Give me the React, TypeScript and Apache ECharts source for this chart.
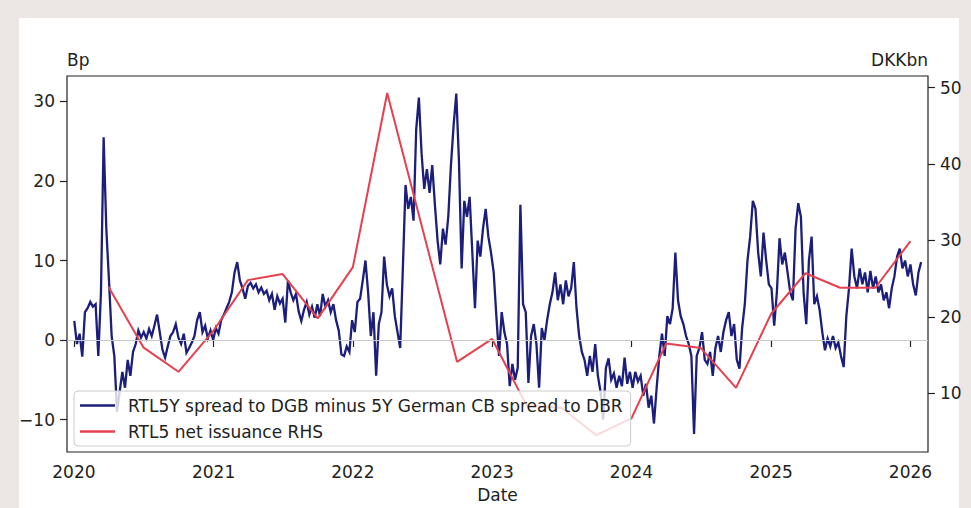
import React, { useEffect, useRef } from "react";
import * as echarts from "echarts";

// Weekly readings of the RTL5Y spread (bp), one value per week from 2 Jan 2020
const spread2020 = [
  2.4, -0.5, 0.8, -2.1, 3.5, 4.0, 4.8, 4.2, 4.5, -2.0,
  6.0, 25.5, 14.0, 7.5, 0.5, -2.0, -9.0, -6.5, -4.0, -6.0,
  -2.5, -4.5, -1.5, -0.5, 1.2, 0.3, 1.0, 0.2, 1.4, 0.5,
  1.8, 3.2, 1.0, -1.2, -2.2, -0.8, 0.5, 1.0, 2.0, 0.3,
  -0.5, 0.8, -1.6, -1.0, -0.3, 0.5, 2.5, 3.5, 1.0, 1.8,
  0.2, 1.2, 0.0,
];
const spread2021 = [
  1.5, 0.8, 2.5, 3.2, 4.0, 4.8, 6.0, 8.5, 9.8, 7.5,
  6.5, 5.2, 6.8, 7.2, 6.5, 7.0, 6.0, 6.6, 5.8, 6.2,
  5.0, 5.8, 3.8, 5.5, 4.6, 5.2, 2.2, 7.5, 6.0, 5.0,
  5.8, 3.6, 2.4, 3.8, 4.8, 3.2, 4.2, 2.8, 4.5, 3.0,
  5.8, 4.2, 5.0, 3.5, 4.5, 2.5, 1.2, -1.8, -2.0, -0.8,
  -1.5, 2.5,
];
const spread2022 = [
  1.0, 4.8, 5.2, 7.5, 10.0, 6.0, 0.5, 3.5, -4.5, 2.0,
  3.5, 10.5, 7.0, 5.5, 6.5, 3.0, 1.0, -1.0, 9.0, 19.5,
  16.5, 18.0, 15.0, 26.5, 30.5, 23.5, 19.0, 21.5, 18.5, 22.0,
  17.0, 12.5, 9.5, 14.0, 12.0, 15.5, 22.0, 27.0, 31.0, 22.5,
  9.0, 17.5, 15.5, 18.0, 11.0, 4.0, 12.5, 10.5, 14.0, 16.5,
  13.0, 11.0,
];
const spread2023 = [
  8.5, 3.0, -2.0, 3.5, 1.0, -0.5, -5.8, -3.0, -5.0, -3.5,
  17.0, 4.5, 3.5, -5.4, 0.5, 2.0, -0.5, -6.0, 1.5, 0.0,
  2.5, 4.5, 6.0, 8.5, 5.0, 7.0, 4.5, 7.5, 5.5, 6.5,
  9.8, 4.0, 0.5, -1.5, -2.5, -4.5, -2.0, -4.0, -0.5, -4.5,
  -6.5, -10.0, -3.5, -2.3, -5.0, -4.2, -6.0, -4.5, -5.8, -2.2,
  -5.5, -4.0,
];
const spread2024 = [
  -6.0, -4.0, -5.2, -4.5, -7.0, -5.5, -8.5, -7.0, -10.5, -6.0,
  -2.0, 0.8, -2.0, 3.0, 2.0, 4.0, 11.0, 5.0, 3.0, 2.0,
  0.5, -0.5, -2.0, -11.8, -2.0, -1.0, 1.0, -2.5, -3.0, -1.5,
  -4.5, -1.0, 0.5, -1.5, 1.0, 2.5, 3.5, 0.5, 2.0, -2.5,
  -3.6, 1.5, 4.5, 10.0, 13.0, 17.5, 16.5, 11.0, 8.0, 13.5,
  10.0, 7.0,
];
const spread2025 = [
  6.5, 1.8, 6.0, 12.8, 9.5, 11.0, 8.5, 6.0, 5.0, 14.0,
  17.2, 15.5, 6.0, 2.0, 10.0, 13.0, 4.5, 5.5, 3.8, 1.0,
  -1.3, 0.2, -0.8, 0.5, -1.0, -0.3, -2.0, -3.4, 3.0, 6.5,
  11.5, 8.0, 6.5, 9.0, 7.0, 8.5, 6.0, 8.7, 6.5, 8.0,
  6.0, 7.0, 5.0, 6.0, 4.0, 6.5, 8.0, 10.5, 11.5, 9.0,
  10.0, 8.0, 9.5,
];
const spread2026 = [7.0, 5.6, 8.5, 9.8];

// Quarterly RTL5 net issuance (DKKbn)
const issuanceDates = [
  "2020-04-01", "2020-07-01", "2020-10-01", "2021-01-01", "2021-04-01",
  "2021-07-01", "2021-10-01", "2022-01-01", "2022-04-01", "2022-10-01",
  "2023-01-01", "2023-04-01", "2023-07-01", "2023-10-01", "2024-01-01",
  "2024-04-01", "2024-07-01", "2024-10-01", "2025-01-01", "2025-04-01",
  "2025-07-01", "2025-10-01", "2026-01-01",
];
const issuanceValues = [
  23.9, 16.0, 12.8, 18.2, 24.8,
  25.6, 19.8, 26.5, 49.3, 14.1,
  17.1, 8.4, 8.1, 4.5, 6.7,
  16.5, 15.9, 10.7, 20.4, 25.7,
  23.8, 23.8, 29.9,
];

const yearTicks = [2020, 2021, 2022, 2023, 2024, 2025, 2026];
const leftTicks = [-10, 0, 10, 20, 30];
const rightTicks = [10, 20, 30, 40, 50];

const SPREAD_NAME = "RTL5Y spread to DGB minus 5Y German CB spread to DBR";
const ISSUANCE_NAME = "RTL5 net issuance RHS";

const FONT = "DejaVu Sans";
const FONT_SIZE = 17;
const INK = "#222222";
const WEEK_MS = 7 * 24 * 3600 * 1000;

export default function App() {
  const ref = useRef<HTMLDivElement>(null);

  useEffect(() => {
    if (!ref.current) return;
    const chart = echarts.init(ref.current, undefined, { renderer: "svg" });

    const firstWeek = Date.UTC(2020, 0, 2);
    const spreadValues = [
      ...spread2020, ...spread2021, ...spread2022, ...spread2023,
      ...spread2024, ...spread2025, ...spread2026,
    ];
    const spreadData = spreadValues.map((v, i) => [firstWeek + i * WEEK_MS, v]);
    const issuanceData = issuanceDates.map((d, i) => [Date.parse(d), issuanceValues[i]]);
    const yearStamps = yearTicks.map((y) => Date.UTC(y, 0, 1));
    const fmtNum = (v: number) => (v < 0 ? "\u2212" + Math.abs(v) : String(v));

    const tickStyle = { color: INK, width: 1.2 };
    const labelStyle = { fontFamily: FONT, fontSize: FONT_SIZE, color: INK, margin: 12 };

    chart.setOption({
      animation: false,
      backgroundColor: "transparent",
      textStyle: { fontFamily: FONT },
      grid: {
        left: 67,
        right: 43,
        top: 76,
        bottom: 53,
        show: true,
        borderColor: INK,
        borderWidth: 1.2,
        backgroundColor: "transparent",
      },
      legend: {
        orient: "vertical",
        left: 74,
        top: 391,
        data: [SPREAD_NAME, ISSUANCE_NAME],
        icon: "rect",
        itemWidth: 35,
        itemHeight: 2.5,
        itemGap: 7,
        padding: [5, 8, 5, 6],
        backgroundColor: "rgba(255,255,255,0.8)",
        borderColor: "#cccccc",
        borderWidth: 1,
        borderRadius: 4,
        selectedMode: false,
        textStyle: {
          fontFamily: FONT,
          fontSize: FONT_SIZE,
          color: INK,
          lineHeight: 19,
          padding: [0, 0, 0, 8],
        },
      },
      xAxis: {
        // dates as epoch milliseconds on a linear scale, labelled by year
        type: "value",
        min: Date.UTC(2019, 11, 14),
        max: Date.UTC(2026, 1, 16),
        name: "Date",
        nameLocation: "middle",
        nameGap: 34,
        nameTextStyle: { fontFamily: FONT, fontSize: FONT_SIZE, color: INK },
        axisLine: { show: false },
        axisTick: { show: true, customValues: yearStamps, length: 7, lineStyle: tickStyle },
        axisLabel: {
          ...labelStyle,
          margin: 11,
          customValues: yearStamps,
          formatter: (v: number) => String(new Date(v).getUTCFullYear()),
        },
        splitLine: { show: false },
      },
      yAxis: [
        {
          type: "value",
          position: "left",
          min: -14.08,
          max: 33.2,
          axisLine: { show: false },
          axisTick: { show: true, customValues: leftTicks, length: 7, lineStyle: tickStyle },
          axisLabel: { ...labelStyle, customValues: leftTicks, formatter: fmtNum },
          splitLine: { show: false },
        },
        {
          type: "value",
          position: "right",
          min: 2.3,
          max: 51.52,
          axisLine: { show: false },
          axisTick: { show: true, customValues: rightTicks, length: 7, lineStyle: tickStyle },
          axisLabel: { ...labelStyle, customValues: rightTicks, formatter: fmtNum },
          splitLine: { show: false },
        },
      ],
      graphic: [
        {
          type: "text",
          left: 67,
          top: 51,
          style: { text: "Bp", fontFamily: FONT, fontSize: FONT_SIZE, fill: INK },
        },
        {
          type: "text",
          right: 43,
          top: 51,
          style: { text: "DKKbn", fontFamily: FONT, fontSize: FONT_SIZE, fill: INK },
        },
      ],
      series: [
        {
          type: "line",
          data: [],
          yAxisIndex: 0,
          z: 1,
          silent: true,
          markLine: {
            silent: true,
            symbol: "none",
            label: { show: false },
            lineStyle: { color: "#c8c8c8", width: 1.2, type: "solid" },
            data: [{ yAxis: 0 }],
          },
        },
        {
          name: SPREAD_NAME,
          type: "line",
          yAxisIndex: 0,
          data: spreadData,
          showSymbol: false,
          color: "#1b1e7a",
          lineStyle: { color: "#1b1e7a", width: 2.3, join: "miter" },
          z: 2,
        },
        {
          name: ISSUANCE_NAME,
          type: "line",
          yAxisIndex: 1,
          data: issuanceData,
          showSymbol: false,
          color: "#e6404e",
          lineStyle: { color: "#e6404e", width: 2 },
          z: 3,
        },
      ],
    });

    return () => chart.dispose();
  }, []);

  return (
    <div
      style={{
        position: "fixed",
        left: 0,
        top: 0,
        width: 971,
        height: 508,
        background: "#ece7e4",
        overflow: "hidden",
      }}
    >
      <div
        style={{
          position: "absolute",
          left: 19,
          top: 18,
          width: 940,
          height: 490,
          background: "#ffffff",
        }}
      />
      <div
        ref={ref}
        style={{ position: "absolute", left: 0, top: 0, width: 971, height: 508 }}
      />
    </div>
  );
}
